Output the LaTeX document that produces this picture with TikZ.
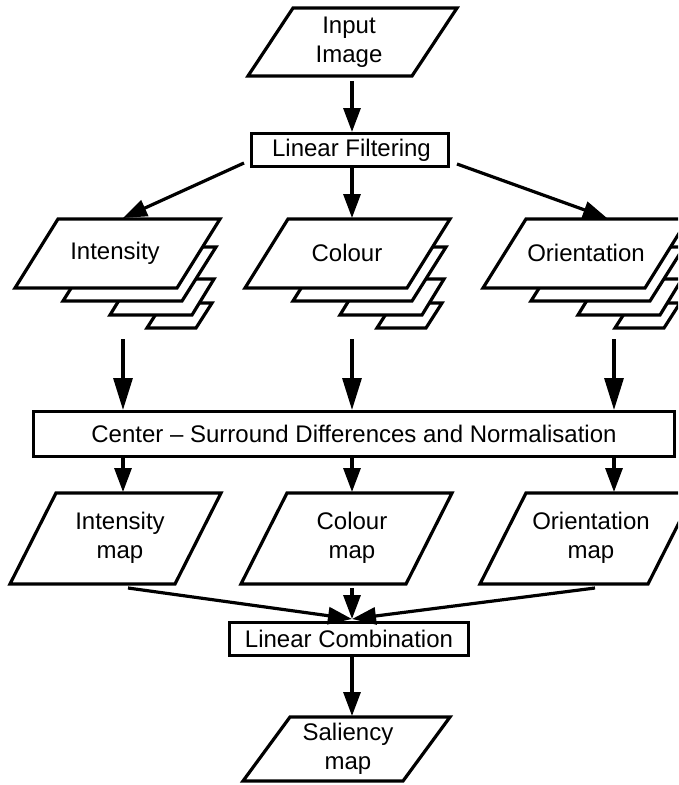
\documentclass[tikz,border=0pt]{standalone}
\usepackage{fontspec}
\setmainfont{Liberation Sans}
\usetikzlibrary{arrows.meta}
\newcommand\pg[5]{\filldraw[shapeline] (#1,#2) -- ++(-#3,0) -- ++(-#5,#4) -- ++(#3,0) -- cycle;}
\newcommand\stackshape{%
  \pg{212}{303}{49}{25}{16}
  \pg{214}{279}{82}{36}{22}
  \pg{216}{247}{119}{54}{34}
  \pg{220}{219}{162}{69}{43}}
\begin{document}
\begin{tikzpicture}[x=1pt,y=-1pt,
  shapeline/.style={line width=3.2pt, line join=miter, draw=black, fill=white},
  arr/.style={line width=3.2pt, -{Triangle[length=24pt,width=17pt]}},
  longarr/.style={line width=3.2pt, -{Triangle[length=32pt,width=19pt]}},
  lbl/.style={font=\fontsize{24}{29}\selectfont, align=center, inner sep=0pt},
  boxnode/.style={draw, line width=3.2pt, fill=white, inner sep=0pt,
    font=\fontsize{24}{29}\selectfont}]
\useasboundingbox (0,0) rectangle (678,785);
\clip (0,0) rectangle (678,785);
\fill[white] (0,0) rectangle (678,785);

% Input image
\pg{457}{8}{164}{68}{45}
\node[lbl] (inp) at (349,42) {Input\\Image};

% Linear filtering
\node[boxnode, minimum width=196.8pt, minimum height=32.8pt] (lf) at (350,150) {\hspace*{3pt}Linear Filtering};

% stacks
\stackshape
\node[lbl] (int) at (115,253) {Intensity};
\begin{scope}[xshift=230pt]
\stackshape
\end{scope}
\node[lbl] (col) at (347,253) {Colour};
\begin{scope}[xshift=468pt]
\stackshape
\end{scope}
\node[lbl] (ori) at (586,253) {Orientation};

% center surround box
\node[boxnode, minimum width=640.8pt, minimum height=44.8pt] (cs) at (354,434) {Center -- Surround Differences and Normalisation};

% maps
\pg{221}{493}{165}{91}{46}
\pg{452}{493}{165}{91}{46}
\pg{694}{493}{168}{91}{46}
\node[lbl] (im) at (120,538) {Intensity\\map};
\node[lbl] (cm) at (352,538) {Colour\\map};
\node[lbl] (om) at (591,538) {Orientation\\map};

% linear combination
\node[boxnode, minimum width=238.8pt, minimum height=32.8pt] (lc) at (349,639) {Linear Combination};

% saliency
\pg{450}{717}{160}{64}{47}
\node[lbl] (sal) at (348,749) {Saliency\\map};

% connector coordinates
\coordinate (inB) at (352,81);
\coordinate (lfL) at (244,163);
\coordinate (lfR) at (457,164);
\coordinate (intT) at (123,218);
\coordinate (colT) at (352,218);
\coordinate (oriT) at (607,218);
\coordinate (c1) at (123,339);
\coordinate (c2) at (352,339);
\coordinate (c3) at (614,339);
\coordinate (imT) at (123,492);
\coordinate (cmT) at (352,492);
\coordinate (omT) at (614,492);
\coordinate (imB) at (128,588);
\coordinate (cmB) at (352,588);
\coordinate (omB) at (595,588);
\coordinate (lcT) at (352,619);
\coordinate (salT) at (352,716);

\draw[arr] (inB) -- (inB |- lf.north);
\draw[arr] (lfL) -- (intT);
\draw[arr] (colT |- lf.south) -- (colT);
\draw[arr] (lfR) -- (oriT);
\draw[longarr] (c1) -- (c1 |- cs.north);
\draw[longarr] (c2) -- (c2 |- cs.north);
\draw[longarr] (c3) -- (c3 |- cs.north);
\draw[arr] (imT |- cs.south) -- (imT);
\draw[arr] (cmT |- cs.south) -- (cmT);
\draw[arr] (omT |- cs.south) -- (omT);
\draw[arr] (imB) -- (lcT);
\draw[arr] (cmB) -- (lcT);
\draw[arr] (omB) -- (lcT);
\draw[arr] (lcT |- lc.south) -- (salT);
\end{tikzpicture}
\end{document}
